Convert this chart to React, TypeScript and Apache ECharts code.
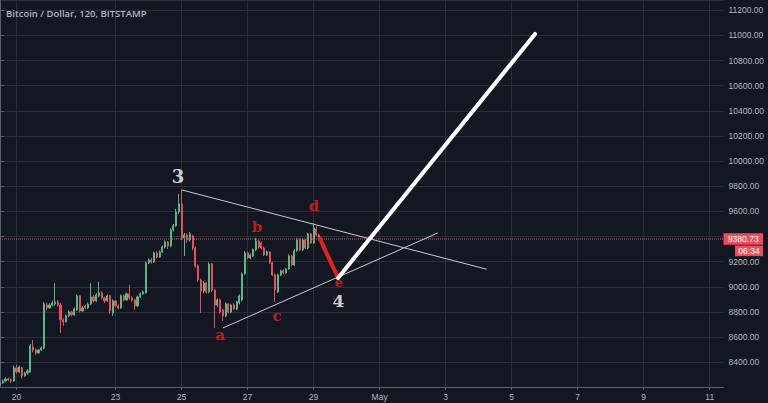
import React, { useEffect, useRef } from 'react';
import * as echarts from 'echarts';

// 2-hour slots starting Apr 19, 12:00
const SLOT_COUNT = 264;
const tickSlots = [6, 42, 66, 90, 114, 138, 162, 186, 210, 234, 258];
const tickLabels = ['20', '23', '25', '27', '29', 'May', '3', '5', '7', '9', '11'];

const titleText = 'Bitcoin / Dollar, 120, BITSTAMP';
const lastPrice = 9380.73;
const countdown = '06:34';

// [open, close, low, high]
const candles: number[][] = [
  [8220, 8235, 8205, 8250], [8235, 8251, 8228, 8262], [8251, 8267, 8240, 8280], [8267, 8259, 8248, 8278],
  [8259, 8251, 8236, 8270], [8251, 8355, 8245, 8372], [8355, 8323, 8310, 8380], [8323, 8363, 8315, 8372],
  [8355, 8291, 8270, 8362], [8291, 8315, 8285, 8325], [8315, 8331, 8300, 8345], [8323, 8530, 8318, 8545],
  [8522, 8498, 8480, 8577], [8498, 8474, 8460, 8510], [8474, 8498, 8468, 8505], [8498, 8514, 8490, 8525],
  [8514, 8864, 8505, 8880], [8856, 8832, 8815, 8875], [8832, 8856, 8825, 8870], [8856, 8872, 8845, 8890],
  [8864, 8880, 8850, 9031], [8880, 8856, 8840, 8895], [8856, 8737, 8633, 8870], [8737, 8721, 8690, 8750],
  [8721, 8769, 8715, 8780], [8769, 8800, 8760, 8812], [8800, 8777, 8765, 8810], [8777, 8824, 8770, 8835],
  [8816, 8928, 8810, 8940], [8928, 8808, 8795, 8935], [8808, 8832, 8800, 8845], [8848, 8832, 8820, 8860],
  [8832, 8864, 8825, 8875], [8864, 8920, 8855, 9031], [8920, 8888, 8875, 8935], [8888, 8936, 8880, 8950],
  [8928, 8952, 8915, 9039], [8952, 8912, 8900, 8965], [8912, 8888, 8870, 8920], [8888, 8928, 8880, 8940],
  [8928, 8808, 8785, 8935], [8792, 8888, 8770, 8900], [8888, 8848, 8840, 8895], [8848, 8832, 8820, 8860],
  [8832, 8928, 8825, 8940], [8928, 8896, 8885, 8940], [8896, 8944, 8890, 8955], [8944, 8912, 8900, 9015],
  [8912, 8896, 8885, 8925], [8896, 8848, 8816, 8905], [8848, 8920, 8840, 8930], [8920, 8944, 8912, 8955],
  [8944, 8960, 8935, 8970], [8952, 9190, 8945, 9200], [9190, 9214, 9180, 9225], [9214, 9198, 9185, 9230],
  [9198, 9270, 9190, 9280], [9270, 9238, 9225, 9285], [9238, 9278, 9230, 9290], [9278, 9317, 9270, 9330],
  [9317, 9357, 9305, 9370], [9357, 9325, 9300, 9365], [9325, 9453, 9315, 9465], [9453, 9485, 9440, 9500],
  [9485, 9596, 9475, 9620], [9596, 9660, 9580, 9739], [9660, 9389, 9373, 9771], [9389, 9413, 9246, 9430],
  [9413, 9373, 9350, 9425], [9373, 9421, 9360, 9435], [9405, 9309, 9290, 9415], [9309, 9166, 9150, 9320],
  [9166, 9055, 9040, 9175], [9055, 8967, 8792, 9065], [8967, 9031, 8950, 9045], [9031, 8960, 8945, 9040],
  [8960, 9182, 8950, 9195], [9182, 8975, 8960, 9190], [8975, 8856, 8673, 8985], [8856, 8896, 8840, 8910],
  [8896, 8800, 8785, 8905], [8816, 8769, 8729, 8825], [8769, 8864, 8760, 8875], [8864, 8800, 8790, 8870],
  [8800, 8856, 8790, 8865], [8856, 8824, 8815, 8870], [8824, 8880, 8815, 8890], [8872, 8928, 8860, 8940],
  [8896, 9103, 8885, 9115], [9103, 9270, 9095, 9285], [9270, 9230, 9220, 9280], [9230, 9254, 9220, 9265],
  [9246, 9294, 9240, 9305], [9294, 9365, 9285, 9389], [9365, 9317, 9305, 9375], [9349, 9309, 9300, 9360],
  [9309, 9254, 9245, 9320], [9254, 9278, 9245, 9290], [9278, 9190, 9180, 9285], [9190, 9095, 9085, 9200],
  [9095, 8975, 8880, 9105], [8960, 9095, 8950, 9105], [9095, 9127, 9085, 9135], [9127, 9111, 9100, 9140],
  [9111, 9142, 9105, 9150], [9142, 9246, 9135, 9260], [9246, 9174, 9165, 9255], [9174, 9286, 9165, 9300],
  [9286, 9373, 9280, 9390], [9373, 9294, 9285, 9385], [9294, 9373, 9285, 9385], [9373, 9309, 9300, 9380],
  [9309, 9421, 9300, 9430], [9421, 9349, 9340, 9430], [9349, 9469, 9340, 9508], [9461, 9413, 9400, 9480],
  [9413, 9380.73, 9370, 9425],
];

// annotation lines: [slot, price]
const upperTrend = [[66.05, 9771], [176.9, 9140]];
const lowerTrend = [[81.06, 8673], [159.2, 9429]];
const redWave = [[116.3, 9381], [122.9, 9071]];
const whiteWave = [[122.9, 9071], [194.5, 11012]];

// wave labels: [slot, price, text, colour, size]
const waveLabels: [number, number, string, string, number][] = [
  [64.7, 9878, '3', '#ffffff', 18],
  [93.4, 9476, 'b', '#e8201f', 15],
  [114.1, 9643, 'd', '#e8201f', 15],
  [100.7, 8768, 'c', '#e8201f', 15],
  [80.0, 8617, 'a', '#e8201f', 15],
  [123.2, 9035, 'e', '#e8201f', 13],
  [123.0, 8888, '4', '#ffffff', 17],
];

const BG = '#131722';
const GRID = '#2a2e39';
const AXIS = '#5d606b';
const TEXT = '#b2b5be';
const UP = '#53b987';
const DOWN = '#eb4d5c';

export default function App() {
  const ref = useRef<HTMLDivElement>(null);
  useEffect(() => {
    if (!ref.current) return;
    const chart = echarts.init(ref.current, undefined, { renderer: 'svg' });
    const slots = Array.from({ length: SLOT_COUNT }, (_, i) => String(i));
    const isTick = (i: number) => tickSlots.indexOf(i) >= 0;
    chart.setOption({
      animation: false,
      backgroundColor: BG,
      title: {
        text: titleText,
        left: 1,
        top: 3,
        textStyle: { color: TEXT, fontSize: 9.5, fontWeight: 600, fontFamily: 'Open Sans' },
      },
      grid: { left: 0, right: 44.5, top: 0, bottom: 16, containLabel: false },
      xAxis: [
        {
          type: 'category',
          data: slots,
          boundaryGap: false,
          axisLine: { show: true, lineStyle: { color: AXIS } },
          axisTick: { show: true, length: 3, interval: (i: number) => isTick(i), lineStyle: { color: AXIS } },
          axisLabel: {
            interval: (i: number) => isTick(i),
            formatter: (_v: string, i: number) => tickLabels[tickSlots.indexOf(i)] ?? '',
            color: TEXT,
            fontSize: 8.5,
            fontFamily: 'Liberation Sans',
            margin: 5,
          },
          splitLine: { show: true, interval: (i: number) => isTick(i), lineStyle: { color: GRID } },
        },
        { type: 'value', min: 0, max: SLOT_COUNT - 1, show: false },
      ],
      yAxis: {
        type: 'value',
        position: 'right',
        min: 8203,
        max: 11282,
        splitNumber: 15,
        axisLine: { show: true, lineStyle: { color: AXIS } },
        axisTick: { show: true, length: 4, lineStyle: { color: AXIS } },
        axisLabel: {
          color: TEXT,
          fontSize: 8.5,
          fontFamily: 'Liberation Sans',
          margin: 5,
          showMinLabel: false,
          showMaxLabel: false,
          // the 9400 label is hidden behind the last-price tag
          formatter: (v: number) => (Math.abs(v - 9400) < 1 ? '' : v.toFixed(2)),
        },
        splitLine: { show: true, lineStyle: { color: GRID } },
      },
      series: [
        {
          type: 'candlestick',
          data: candles,
          barWidth: 1.6,
          itemStyle: { color: UP, color0: DOWN, borderColor: UP, borderColor0: DOWN, borderWidth: 1 },
          z: 3,
        },
        {
          type: 'line', xAxisIndex: 1, symbol: 'none', z: 4,
          data: [[0, lastPrice], [SLOT_COUNT - 1, lastPrice]],
          lineStyle: { color: '#f0505a', type: [1, 1], width: 1 },
        },
        {
          type: 'line', xAxisIndex: 1, data: upperTrend, symbol: 'none',
          lineStyle: { color: '#c8cad0', width: 1 }, z: 5,
        },
        {
          type: 'line', xAxisIndex: 1, data: lowerTrend, symbol: 'none',
          lineStyle: { color: '#c8cad0', width: 1 }, z: 5,
        },
        {
          type: 'line', xAxisIndex: 1, data: redWave, symbol: 'none',
          lineStyle: { color: '#e8201f', width: 4, cap: 'round' }, z: 6,
        },
        {
          type: 'line', xAxisIndex: 1, data: whiteWave, symbol: 'none',
          lineStyle: { color: '#ffffff', width: 4, cap: 'round' }, z: 6,
        },
        {
          type: 'scatter', xAxisIndex: 1, symbolSize: 1, z: 7,
          itemStyle: { color: 'transparent' },
          data: waveLabels.map(([s, p, t, c, fs]) => ({
            value: [s, p],
            name: t,
            label: {
              show: true,
              position: 'inside',
              formatter: '{b}',
              color: c,
              fontSize: fs,
              lineHeight: fs * 0.9,
              fontWeight: 'bold',
              fontFamily: 'DejaVu Serif',
            },
          })),
        },
      ],
    });
    const y = chart.convertToPixel({ yAxisIndex: 0 }, lastPrice) as number;
    chart.setOption({
      graphic: [
        { type: 'rect', z: 100, shape: { x: 723.5, y: y - 5.7, width: 39.5, height: 11.4 }, style: { fill: DOWN } },
        {
          type: 'text', z: 101, x: 743.25, y: y,
          style: { text: lastPrice.toFixed(2), fill: '#ffffff', fontSize: 8.5, fontFamily: 'Liberation Sans', align: 'center', verticalAlign: 'middle' },
        },
        { type: 'rect', z: 100, shape: { x: 735, y: y + 6.5, width: 28, height: 10.7 }, style: { fill: DOWN } },
        {
          type: 'text', z: 101, x: 749, y: y + 11.9,
          style: { text: countdown, fill: '#ffffff', fontSize: 8.5, fontFamily: 'Liberation Sans', align: 'center', verticalAlign: 'middle' },
        },
      ],
    });
    return () => chart.dispose();
  }, []);
  return <div ref={ref} style={{ position: 'absolute', left: 0, top: 0, width: 768, height: 403 }} />;
}
